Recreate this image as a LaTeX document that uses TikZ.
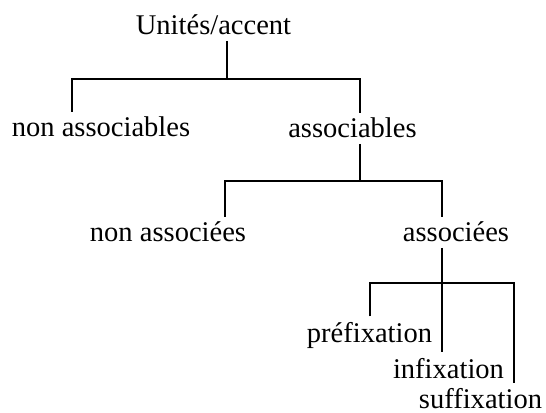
\documentclass[tikz,border=0pt]{standalone}
\usepackage{fontspec}
\setmainfont{Liberation Serif}
\usetikzlibrary{positioning}

\begin{document}
\begin{tikzpicture}[
  x=0.75pt, y=-0.75pt,
  every node/.style={font=\fontsize{21.4}{25}\selectfont, inner sep=4pt, anchor=base},
  branch/.style={line width=1.6pt, black},
]
\useasboundingbox (0,0) rectangle (546,413);

% --- labels ---
\node (units) at (213.5,35) {Unités/accent};
\node (nonassociables) at (101,137) {non associables};
\node (associables) at (352.5,138) {associables};
\node (nonassociees) at (168,242) {non associées};
\node (associees) at (456,242) {associées};
\node (prefixation) at (369.5,342) {préfixation};
\node (infixation) at (448.5,378) {infixation};
\node (suffixation) at (480.5,408.5) {suffixation};

% --- bus points of the tree ---
\coordinate (b1) at (227,79);
\coordinate (b1l) at (72,79);
\coordinate (b1r) at (360,79);
\coordinate (b2l) at (225,181);
\coordinate (b2r) at (442,181);
\coordinate (b3l) at (370,283);
\coordinate (b3r) at (514,283);

% --- level 1 ---
\draw[branch] (units.south -| b1) -- (b1);
\draw[branch] (nonassociables.north -| b1l) -- (b1l) -- (b1r)
  -- (associables.north -| b1r);

% --- level 2 ---
\draw[branch] (associables.south -| b1r) -- (b1r |- b2l);
\draw[branch] (nonassociees.north -| b2l) -- (b2l) -- (b2r)
  -- (associees.north -| b2r);

% --- level 3 ---
\draw[branch] (associees.south -| b2r) -- (b2r |- b3l);
\draw[branch] (prefixation.north -| b3l) -- (b3l) -- (b3r)
  -- (suffixation.north -| b3r);
\draw[branch] (b2r |- b3l) -- (infixation.north -| b2r);

\end{tikzpicture}
\end{document}
